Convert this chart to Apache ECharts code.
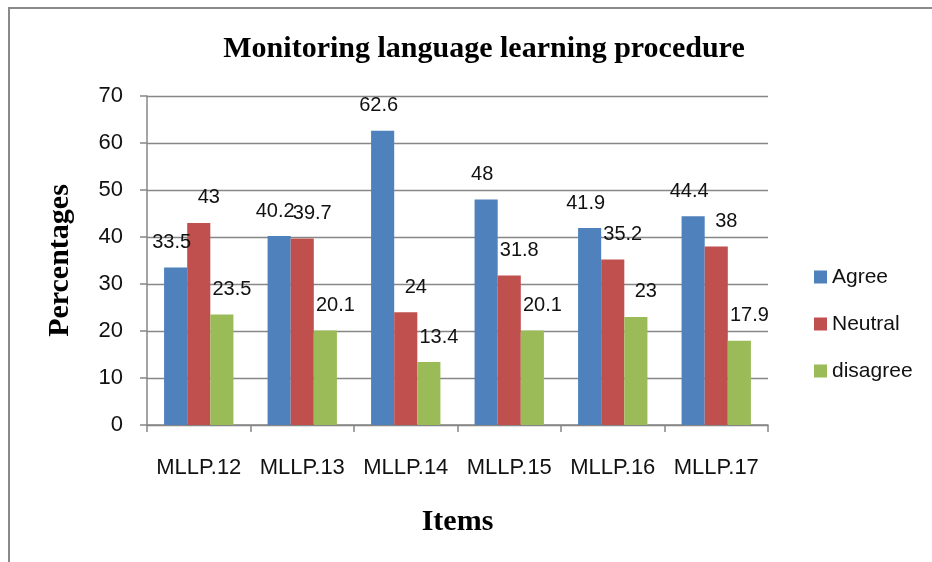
<!DOCTYPE html>
<html>
<head>
<meta charset="utf-8">
<script src="https://cdn.jsdelivr.net/npm/echarts@6/dist/echarts.min.js"></script>
<style>
  html, body { margin: 0; padding: 0; background: #fff; }
  #chart { width: 932px; height: 562px; }
</style>
</head>
<body>
<div id="chart"></div>
<script>
const categories = ['MLLP.12', 'MLLP.13', 'MLLP.14', 'MLLP.15', 'MLLP.16', 'MLLP.17']
const agree = [33.5, 40.2, 62.6, 48, 41.9, 44.4]
const neutral = [43, 39.7, 24, 31.8, 35.2, 38]
const disagree = [23.5, 20.1, 13.4, 20.1, 23, 17.9]

const GRAY = '#878787'
const SANS = '"Liberation Sans", Arial, sans-serif'
const SERIF = '"Liberation Serif", "Times New Roman", serif'

function bar(name, data, color, dx) {
  return {
    name, type: 'bar', data, barGap: 0, barCategoryGap: '33%',
    itemStyle: { color },
    label: {
      show: true, position: 'top', distance: 15, offset: [dx, 0],
      color: '#111', fontFamily: SANS, fontSize: 20,
    },
  }
}

const chart = echarts.init(document.getElementById('chart'))
chart.setOption({
  animation: false,
  title: {
    text: 'Monitoring language learning procedure',
    left: 479, top: 29, textAlign: 'center',
    textStyle: { fontFamily: SERIF, fontWeight: 'bold', fontSize: 30, color: '#000' },
  },
  legend: {
    orient: 'vertical', left: 809, top: 261,
    itemWidth: 13, itemHeight: 13, itemGap: 25, icon: 'rect',
    textStyle: { fontFamily: SANS, fontSize: 21, color: '#111', lineHeight: 22 },
  },
  grid: { left: 147, right: 164, top: 96, bottom: 137 },
  xAxis: {
    type: 'category', data: categories,
    name: 'Items', nameLocation: 'middle', nameGap: 82,
    nameTextStyle: { fontFamily: SERIF, fontWeight: 'bold', fontSize: 30, color: '#000' },
    axisLine: { lineStyle: { color: GRAY, width: 1.5 } },
    axisTick: { show: true, length: 7, lineStyle: { color: GRAY, width: 1.5 } },
    axisLabel: { interval: 0, margin: 32, fontFamily: SANS, fontSize: 22, color: '#111' },
  },
  yAxis: {
    type: 'value', min: 0, max: 70, interval: 10,
    name: 'Percentages', nameLocation: 'middle', nameGap: 72, nameRotate: 90,
    nameTextStyle: { fontFamily: SERIF, fontWeight: 'bold', fontSize: 30, color: '#000' },
    axisLine: { show: true, lineStyle: { color: GRAY, width: 1.5 } },
    axisTick: { show: true, length: 7, lineStyle: { color: GRAY, width: 1.5 } },
    axisLabel: { margin: 24, fontFamily: SANS, fontSize: 22, color: '#111' },
    splitLine: { lineStyle: { color: GRAY, width: 1.3 } },
  },
  graphic: [
    { type: 'line', shape: { x1: 8, y1: 8, x2: 932, y2: 8 }, style: { stroke: '#8a8a8a', lineWidth: 2 } },
    { type: 'line', shape: { x1: 9, y1: 8, x2: 9, y2: 562 }, style: { stroke: '#8a8a8a', lineWidth: 2 } },
  ],
  series: [
    bar('Agree', agree, '#4f81bd', -4),
    bar('Neutral', neutral, '#c0504d', 10),
    bar('disagree', disagree, '#9bbb59', 10),
  ],
})
</script>
</body>
</html>
